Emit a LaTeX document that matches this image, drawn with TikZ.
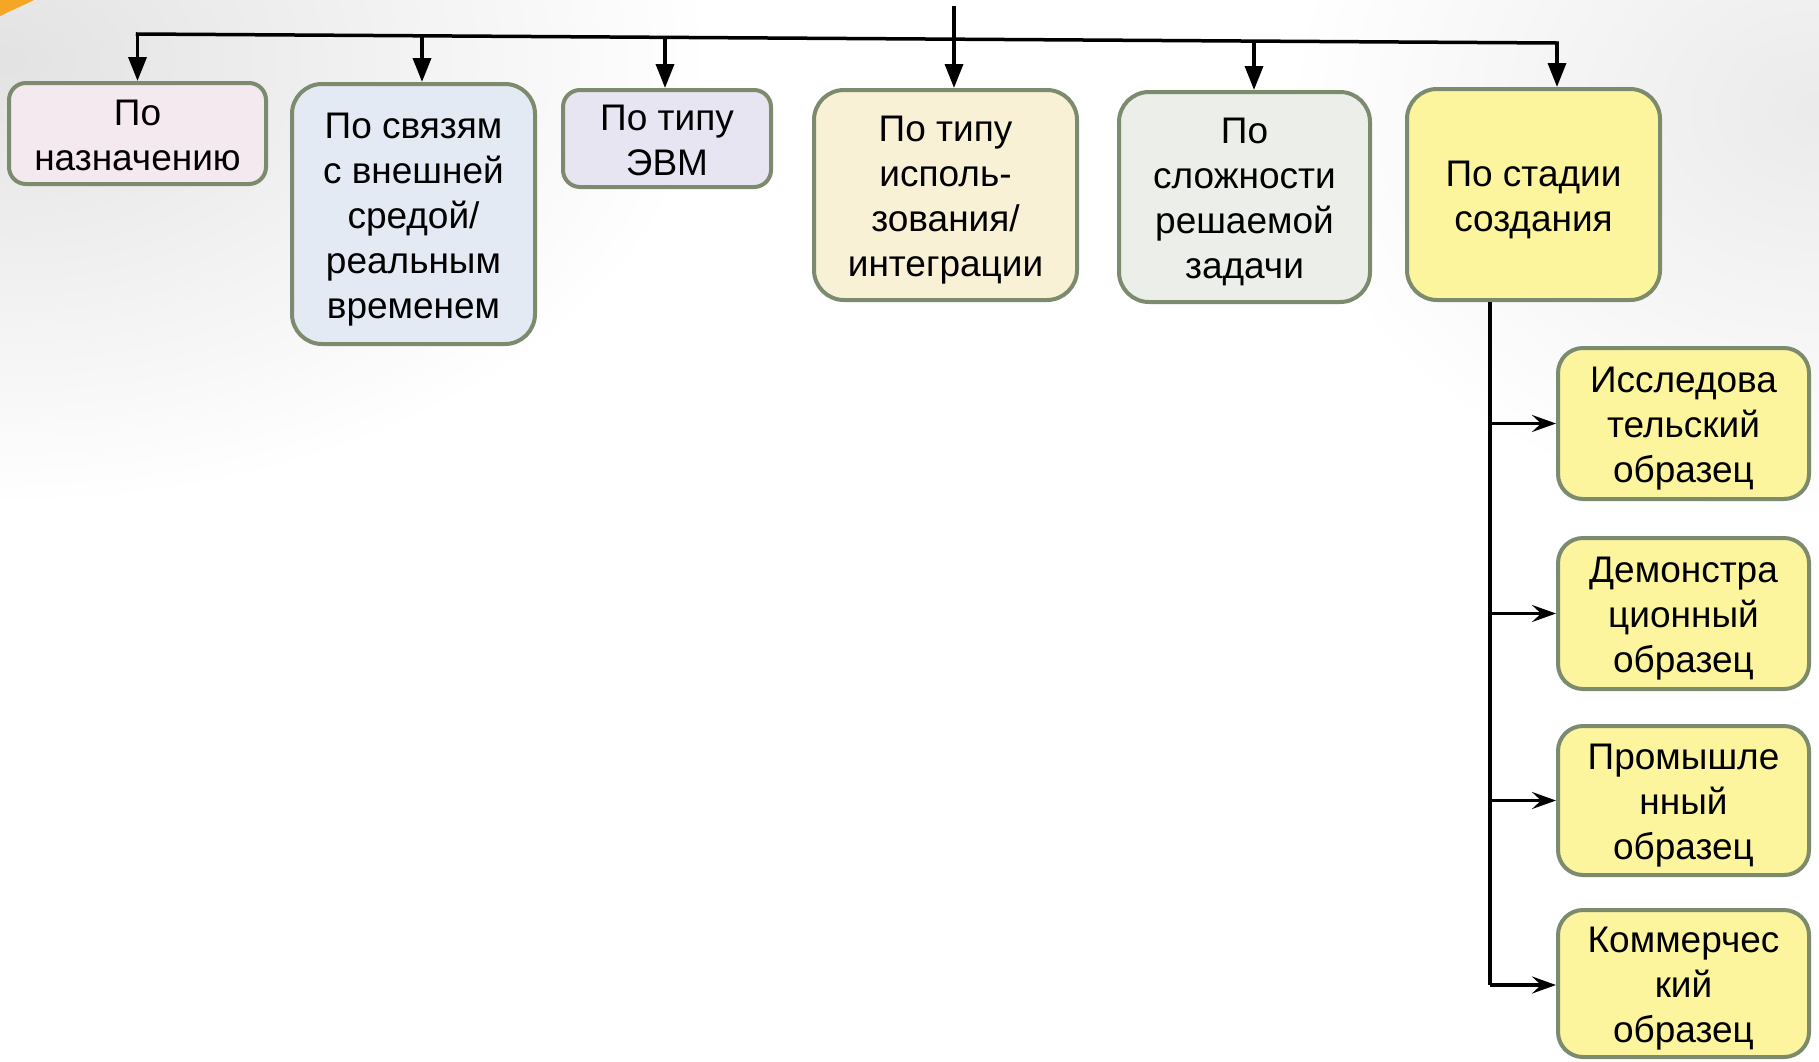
\documentclass[tikz,border=0pt]{standalone}
\usepackage{fontspec}
\setmainfont{Liberation Sans}
\usetikzlibrary{arrows.meta,fadings}
\definecolor{bord}{HTML}{7C8A6E}
\definecolor{fpink}{HTML}{F4E9EE}
\definecolor{fblue}{HTML}{E4EAF3}
\definecolor{flav}{HTML}{E8E5F2}
\definecolor{fcream}{HTML}{F8F1D5}
\definecolor{fgray}{HTML}{ECEFE9}
\definecolor{fyel}{HTML}{FCF59D}
\definecolor{swoosh}{HTML}{F5A623}
\tikzfading[name=softblob, inner color=transparent!0, outer color=transparent!100]
\newcommand\bt[1]{\raisebox{-5pt}[\height][\depth]{\begin{tabular}{@{}c@{}}#1\end{tabular}}}
\begin{document}
\begin{tikzpicture}[x=1pt,y=-1pt,
  box/.style={draw=bord, line width=4pt, inner sep=0pt,
    font=\fontsize{37}{45}\selectfont, text=black},
  smallr/.style={rounded corners=17pt},
  bigr/.style={rounded corners=30pt},
  subr/.style={rounded corners=25pt},
  conn/.style={line width=3.5pt, black},
  downarrow/.style={conn, -{Triangle[width=18pt,length=24pt]}},
  sidearrow/.style={conn, -{Stealth[width=17pt,length=24pt,inset=9pt]}}]
\useasboundingbox (0,0) rectangle (1819,1061);
% background
\fill[white] (0,0) rectangle (1819,1061);
\fill[gray!22, path fading=softblob] (0,60) ellipse [x radius=700, y radius=440];
\fill[gray!16, path fading=softblob] (1819,110) ellipse [x radius=520, y radius=400];
\fill[swoosh] (0,0) -- (34,0) .. controls (22,6) and (10,11) .. (0,16) -- cycle;

% top boxes
\node[box, smallr, fill=fpink, minimum width=257, minimum height=101] (b1) at (137.5,133.5) {\bt{По\\назначению}};
\node[box, bigr, fill=fblue, minimum width=243, minimum height=260] (b2) at (413.5,214) {\bt{По связям\\с внешней\\средой/\\реальным\\временем}};
\node[box, smallr, fill=flav, minimum width=208, minimum height=97] (b3) at (667,138.5) {\bt{По типу\\ЭВМ}};
\node[box, bigr, fill=fcream, minimum width=263, minimum height=210] (b4) at (945.5,195) {\bt{По типу\\исполь-\\зования/\\интеграции}};
\node[box, bigr, fill=fgray, minimum width=251, minimum height=210] (b5) at (1244.5,197) {\bt{По\\сложности\\решаемой\\задачи}};
\node[box, bigr, fill=fyel, minimum width=253, minimum height=211] (b6) at (1533.5,194.5) {\bt{По стадии\\создания}};

% sub boxes
\node[box, subr, fill=fyel, minimum width=251, minimum height=151] (s1) at (1683.5,423.5) {\bt{Исследова\\тельский\\образец}};
\node[box, subr, fill=fyel, minimum width=251, minimum height=151] (s2) at (1683.5,613.5) {\bt{Демонстра\\ционный\\образец}};
\node[box, subr, fill=fyel, minimum width=251, minimum height=149] (s3) at (1683.5,800.5) {\bt{Промышле\\нный\\образец}};
\node[box, subr, fill=fyel, minimum width=251, minimum height=147] (s4) at (1683.5,983.5) {\bt{Коммерчес\\кий\\образец}};

% bus
\coordinate (top) at (954,6);
\coordinate (t1) at (137.5,34);
\coordinate (t2) at (422,35.8);
\coordinate (t3) at (665,37.3);
\coordinate (t4) at (954,39.2);
\coordinate (t5) at (1254,41.1);
\coordinate (t6) at (1557,43);
\draw[conn, line cap=rect] (t1) -- (t6);
\draw[conn] (top) -- (t4);
\draw[downarrow] (t1) -- (t1 |- b1.north);
\draw[downarrow] (t2) -- (t2 |- b2.north);
\draw[downarrow] (t3) -- (t3 |- b3.north);
\draw[downarrow] (t4) -- (t4 |- b4.north);
\draw[downarrow] (t5) -- (t5 |- b5.north);
\draw[downarrow] (t6) -- (t6 |- b6.north);

% trunk
\coordinate (tr) at (1490,302);
\coordinate (trend) at (1490,985);
\draw[conn] (tr |- b6.south) -- (trend);
\draw[sidearrow] (tr |- s1.west) -- (s1.west);
\draw[sidearrow] (tr |- s2.west) -- (s2.west);
\draw[sidearrow] (tr |- s3.west) -- (s3.west);
\draw[sidearrow] (trend) -- (trend -| s4.west);
\end{tikzpicture}
\end{document}
